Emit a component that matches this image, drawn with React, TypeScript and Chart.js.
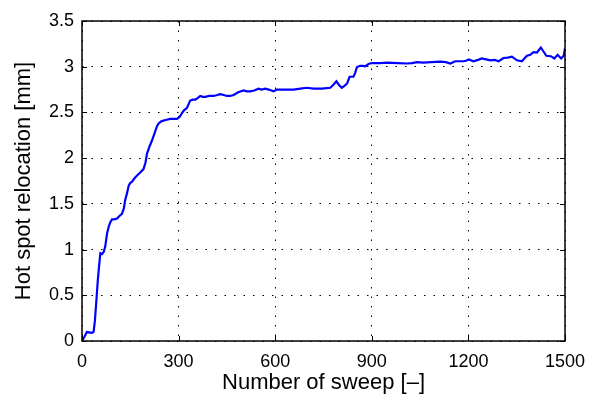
import React, { useEffect, useRef } from "react";
import { Chart, registerables } from "chart.js";

Chart.register(...registerables);

const sweeps = [
  0, 8, 15, 31, 36, 40, 44, 49, 53, 57, 62, 67, 72, 78, 83, 88, 93, 100, 109, 117,
  124, 130, 134, 140, 145, 150, 155, 163, 171, 180, 191, 197, 202, 210, 217, 223, 228, 233, 238, 245,
  253, 263, 274, 285, 295, 303, 310, 316, 326, 336, 344, 352, 360, 367, 375, 383, 395, 409, 420, 429,
  440, 450, 460, 471, 485, 502, 512, 522, 535, 548, 558, 569, 580, 595, 605, 616, 635, 657, 678, 698,
  719, 745, 771, 780, 790, 798, 807, 815, 823, 831, 843, 848, 854, 864, 872, 880, 890, 900, 925, 947,
  980, 1009, 1025, 1040, 1060, 1085, 1113, 1130, 1144, 1159, 1172, 1184, 1193, 1201, 1216, 1230, 1242, 1255, 1268, 1282,
  1294, 1309, 1322, 1335, 1351, 1366, 1382, 1392, 1402, 1413, 1425, 1442, 1456, 1467, 1477, 1488, 1496, 1500,
];

const relocation = [
  0, 0.05, 0.098, 0.09, 0.1, 0.22, 0.41, 0.66, 0.82, 0.96, 0.95, 0.97, 1.03, 1.18, 1.25, 1.3, 1.33, 1.33, 1.34, 1.37,
  1.39, 1.45, 1.54, 1.62, 1.7, 1.73, 1.74, 1.78, 1.81, 1.84, 1.88, 1.95, 2.05, 2.13, 2.19, 2.25, 2.3, 2.35, 2.38, 2.4,
  2.41, 2.42, 2.43, 2.43, 2.43, 2.45, 2.49, 2.52, 2.55, 2.63, 2.64, 2.64, 2.66, 2.68, 2.67, 2.67, 2.68, 2.68, 2.69, 2.7,
  2.69, 2.68, 2.68, 2.69, 2.72, 2.74, 2.73, 2.73, 2.74, 2.76, 2.75, 2.76, 2.75, 2.73, 2.75, 2.75, 2.75, 2.75, 2.76, 2.77,
  2.76, 2.76, 2.77, 2.8, 2.84, 2.8, 2.77, 2.79, 2.815, 2.89, 2.89, 2.93, 2.997, 3.01, 3.01, 3.005, 3.03, 3.04, 3.04, 3.045,
  3.04, 3.035, 3.04, 3.05, 3.045, 3.05, 3.055, 3.05, 3.035, 3.06, 3.06, 3.06, 3.065, 3.08, 3.06, 3.075, 3.09, 3.08, 3.07, 3.075,
  3.06, 3.095, 3.1, 3.11, 3.07, 3.06, 3.12, 3.13, 3.16, 3.155, 3.21, 3.12, 3.115, 3.09, 3.13, 3.09, 3.12, 3.2,
];

const xTicks = [0, 300, 600, 900, 1200, 1500];
const yTicks = [0, 0.5, 1, 1.5, 2, 2.5, 3, 3.5];
const xTitle = "Number of sweep [–]";
const yTitle = "Hot spot relocation [mm]";

const FONT = "'Liberation Sans', Arial, Helvetica, sans-serif";

const framePlugin = {
  id: "frame",
  afterDraw(chart: any) {
    const { ctx, chartArea, scales } = chart;
    const { left, right, top, bottom } = chartArea;
    ctx.save();
    ctx.setLineDash([]);
    ctx.strokeStyle = "#000";
    ctx.lineWidth = 1;
    const tl = 5;
    ctx.beginPath();
    for (const v of xTicks) {
      const x = Math.round(scales.x.getPixelForValue(v)) + 0.5;
      ctx.moveTo(x, bottom);
      ctx.lineTo(x, bottom - tl);
      ctx.moveTo(x, top);
      ctx.lineTo(x, top + tl);
    }
    for (const v of yTicks) {
      const y = Math.round(scales.y.getPixelForValue(v)) + 0.5;
      ctx.moveTo(left, y);
      ctx.lineTo(left + tl, y);
      ctx.moveTo(right, y);
      ctx.lineTo(right - tl, y);
    }
    ctx.stroke();
    ctx.lineWidth = 1.5;
    ctx.strokeRect(left, top, right - left, bottom - top);
    ctx.restore();
  },
};

export default function App() {
  const ref = useRef<HTMLCanvasElement | null>(null);
  useEffect(() => {
    if (!ref.current) return;
    const chart = new Chart(ref.current, {
      type: "line",
      data: {
        datasets: [
          {
            data: sweeps.map((s, i) => ({ x: s, y: relocation[i] })),
            borderColor: "#0000ff",
            borderWidth: 2.2,
            pointRadius: 0,
            tension: 0,
            fill: false,
          },
        ],
      },
      options: {
        animation: false,
        responsive: true,
        maintainAspectRatio: false,
        layout: { padding: { top: 21, right: 33, left: 0, bottom: 0 } },
        plugins: { legend: { display: false }, tooltip: { enabled: false } },
        scales: {
          x: {
            type: "linear",
            min: 0,
            max: 1500,
            afterBuildTicks: (scale: any) => {
              scale.ticks = xTicks.map((v) => ({ value: v }));
            },
            afterFit: (scale: any) => {
              scale.height = 60;
            },
            ticks: {
              padding: 10,
              color: "#000",
              font: { family: FONT, size: 18 },
              maxRotation: 0,
              autoSkip: false,
              callback: (v: any) => String(v),
            },
            grid: { color: "#000", lineWidth: 1, drawTicks: false },
            border: { display: false, dash: [1.5, 8] },
            title: {
              display: true,
              text: xTitle,
              color: "#000",
              font: { family: FONT, size: 22 },
              padding: { top: 0, bottom: 5 },
            },
          },
          y: {
            type: "linear",
            min: 0,
            max: 3.5,
            afterBuildTicks: (scale: any) => {
              scale.ticks = yTicks.map((v) => ({ value: v }));
            },
            afterFit: (scale: any) => {
              scale.width = 82;
            },
            ticks: {
              padding: 8,
              color: "#000",
              font: { family: FONT, size: 18 },
              autoSkip: false,
              callback: (v: any) => String(v),
            },
            grid: { color: "#000", lineWidth: 1, drawTicks: false },
            border: { display: false, dash: [1.5, 8] },
            title: {
              display: true,
              text: yTitle,
              color: "#000",
              font: { family: FONT, size: 22 },
              padding: { top: 11, bottom: 0 },
            },
          },
        },
      },
      plugins: [framePlugin],
    });
    return () => chart.destroy();
  }, []);
  return (
    <div style={{ position: "fixed", left: 0, top: 0, width: 598, height: 401, background: "#fff" }}>
      <canvas ref={ref} />
    </div>
  );
}
